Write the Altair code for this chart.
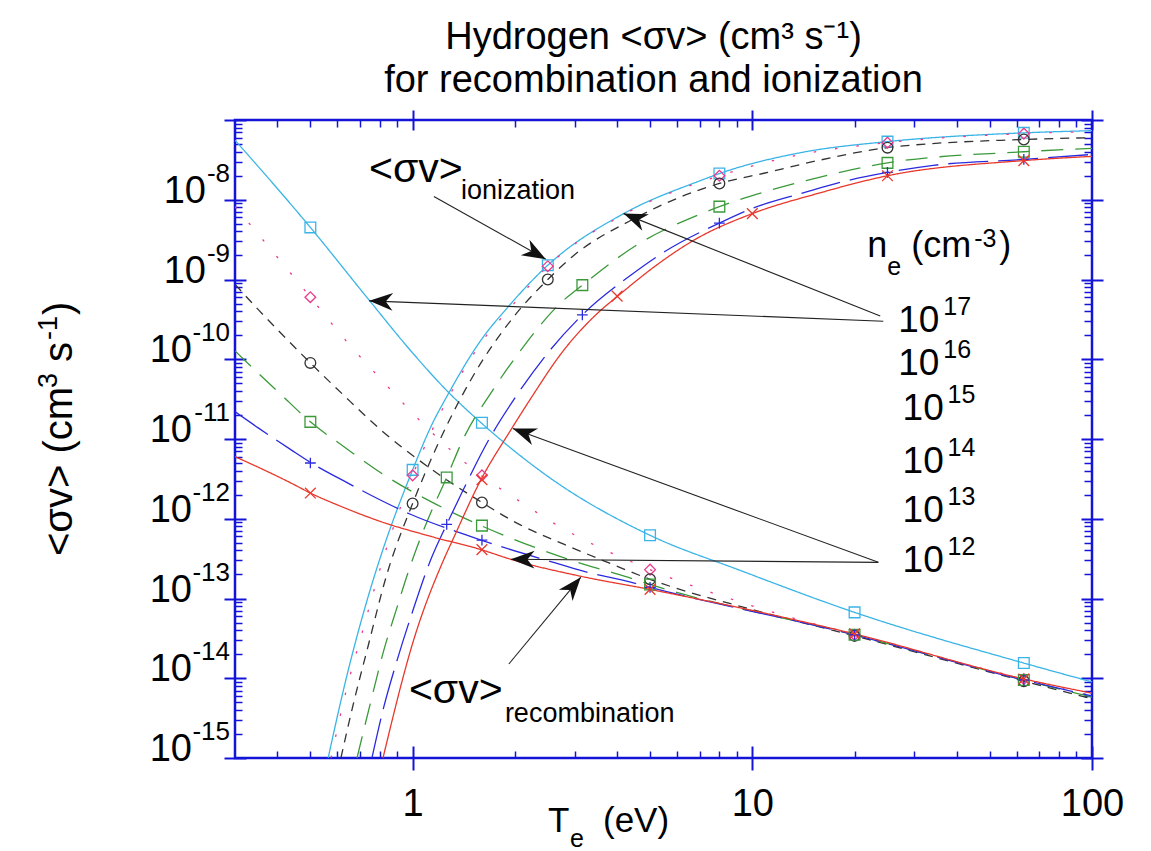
import math
import altair as alt
import pandas as pd

FONT = "Liberation Sans"
AXC = "#1414d8"

# ---------------- data ----------------
DENS = ["1e17", "1e16", "1e15", "1e14", "1e13", "1e12"]
COLORS = ["#3ab4e6", "#ec3a8c", "#333333", "#3a9a3a", "#2a2ae0", "#e8382c"]

# ionization <sigma v> curves: T_e (eV) -> cm^3 s^-1
ION_T = {
    "1e17": [0.564, 0.637, 0.739, 0.796, 1.0, 1.132, 1.279, 1.59, 1.907, 2.5, 4.18, 7.04, 8.0, 13.9, 25.0, 63.0, 100.0],
    "1e16": [0.575, 0.637, 0.719, 0.818, 1.0, 1.279, 1.59, 1.946, 2.5, 4.18, 8.0, 13.9, 25.0, 63.0, 100.0],
    "1e15": [0.615, 0.667, 0.739, 0.835, 1.0, 1.109, 1.483, 1.972, 2.5, 2.98, 4.385, 8.0, 11.1, 15.6, 25.0, 63.0, 100.0],
    "1e14": [0.686, 0.753, 0.824, 0.892, 0.969, 1.109, 1.26, 1.406, 1.722, 2.054, 2.73, 3.16, 4.69, 6.9, 8.0, 10.7, 14.4, 25.0, 63.0, 100.0],
    "1e13": [0.759, 0.824, 0.892, 1.0, 1.132, 1.26, 1.387, 1.676, 2.013, 2.5, 3.16, 4.385, 5.49, 8.0, 10.0, 14.2, 18.2, 25.0, 34.1, 63.0, 100.0],
    "1e12": [0.818, 1.009, 1.236, 1.314, 1.59, 1.946, 2.198, 2.786, 3.508, 4.018, 5.13, 6.72, 10.0, 15.6, 25.0, 63.0, 100.0],
}
ION_V = {
    "1e17": [1.0e-15, 9.8e-15, 1.04e-13, 2.9e-13, 4.1e-12, 1.43e-11, 3.8e-11, 1.74e-10, 4.5e-10, 1.51e-9, 6.7e-9, 1.74e-8, 2.13e-8, 3.9e-8, 5.36e-8, 6.9e-8, 7.35e-8],
    "1e16": [1.0e-15, 6.9e-15, 4.5e-14, 3.1e-13, 3.5e-12, 3.4e-11, 1.6e-10, 4.5e-10, 1.47e-9, 6.5e-9, 2.0e-8, 3.7e-8, 5.2e-8, 6.75e-8, 7.15e-8],
    "1e15": [1.0e-15, 4.5e-15, 2.5e-14, 1.85e-13, 1.55e-12, 4.5e-12, 5.5e-11, 3.3e-10, 1.0e-9, 2.0e-9, 5.5e-9, 1.6e-8, 2.2e-8, 3.1e-8, 4.5e-8, 5.7e-8, 6.0e-8],
    "1e14": [1.0e-15, 5.1e-15, 2.3e-14, 6.9e-14, 2.1e-13, 9.8e-13, 3.3e-12, 9.8e-12, 4.1e-11, 1.2e-10, 5.1e-10, 8.5e-10, 2.9e-9, 6.4e-9, 8.2e-9, 1.23e-8, 1.74e-8, 2.9e-8, 4.0e-8, 4.4e-8],
    "1e13": [1.0e-15, 4.5e-15, 1.48e-14, 6.9e-14, 3.1e-13, 8.5e-13, 2.0e-12, 9.8e-12, 3.4e-11, 1.2e-10, 3.6e-10, 1.13e-9, 2.2e-9, 5.1e-9, 7.8e-9, 1.23e-8, 1.66e-8, 2.2e-8, 2.7e-8, 3.2e-8, 3.7e-8],
    "1e12": [1.0e-15, 3.1e-14, 3.1e-13, 5.5e-13, 3.1e-12, 1.3e-11, 2.95e-11, 1.3e-10, 3.8e-10, 6.2e-10, 1.43e-9, 3.1e-9, 6.7e-9, 1.2e-8, 2.0e-8, 3.1e-8, 3.5e-8],
}

# recombination <sigma v> curves
REC_T = {
    "1e17": [0.3, 0.5, 0.745, 1.0, 1.279, 1.59, 2.5, 5.0, 9.24, 20.0, 63.0, 100.0],
    "1e16": [0.3, 0.396, 0.5, 0.645, 0.824, 1.094, 1.59, 1.986, 2.64, 5.0, 9.89, 20.0, 63.0, 100.0],
    "1e15": [0.3, 0.353, 0.402, 0.5, 0.624, 0.824, 1.109, 1.6, 2.04, 2.786, 3.704, 5.0, 10.2, 20.0, 63.0, 100.0],
    "1e14": [0.3, 0.351, 0.41, 0.5, 0.628, 0.846, 1.132, 1.59, 2.385, 3.18, 4.3, 5.0, 20.0, 63.0, 100.0],
    "1e13": [0.3, 0.351, 0.439, 0.5, 0.645, 0.79, 0.989, 1.416, 1.59, 2.552, 3.18, 4.385, 5.0, 20.0, 63.0, 100.0],
    "1e12": [0.3, 0.365, 0.439, 0.5, 0.615, 0.807, 1.132, 1.59, 1.946, 3.127, 5.0, 20.0, 63.0, 100.0],
}
REC_V = {
    "1e17": [5.6e-8, 4.5e-9, 5.5e-10, 1.2e-10, 3.8e-11, 1.6e-11, 3.4e-12, 6.2e-13, 2.24e-13, 6.7e-14, 1.55e-14, 9.0e-15],
    "1e16": [8.2e-9, 2.0e-9, 6.0e-10, 1.6e-10, 5.1e-11, 1.43e-11, 3.5e-12, 1.85e-12, 8.5e-13, 2.3e-13, 8.2e-14, 3.5e-14, 9.8e-15, 6.0e-15],
    "1e15": [8.7e-10, 4.1e-10, 2.3e-10, 9.0e-11, 3.6e-11, 1.2e-11, 4.5e-12, 1.6e-12, 8.7e-13, 4.8e-13, 2.9e-13, 1.74e-13, 7.1e-14, 3.4e-14, 9.2e-15, 5.5e-15],
    "1e14": [1.27e-10, 6.7e-11, 3.6e-11, 1.64e-11, 8.0e-12, 3.3e-12, 1.64e-12, 8.2e-13, 4.1e-13, 2.7e-13, 1.85e-13, 1.5e-13, 3.5e-14, 9.5e-15, 5.8e-15],
    "1e13": [2.2e-11, 1.38e-11, 7.3e-12, 5.1e-12, 2.8e-12, 1.78e-12, 1.13e-12, 6.4e-13, 5.4e-13, 2.9e-13, 2.2e-13, 1.6e-13, 1.38e-13, 3.5e-14, 9.5e-15, 6.0e-15],
    "1e12": [6.0e-12, 4.1e-12, 2.8e-12, 2.1e-12, 1.43e-12, 9.2e-13, 6.0e-13, 4.1e-13, 3.1e-13, 1.9e-13, 1.3e-13, 3.6e-14, 9.8e-15, 6.5e-15],
}

# symbols drawn on the curves
MK_ION_T = {
    "1e17": [1.0, 2.5, 8.0, 25.0, 63.0],
    "1e16": [1.0, 2.5, 8.0, 25.0, 63.0],
    "1e15": [1.0, 2.5, 8.0, 25.0, 63.0],
    "1e14": [1.26, 3.16, 8.0, 25.0, 63.0],
    "1e13": [1.26, 3.16, 8.0, 25.0, 63.0],
    "1e12": [1.6, 4.0, 10.0, 25.0, 63.0],
}
MK_ION_V = {
    "1e17": [4.1e-12, 1.51e-9, 2.13e-8, 5.36e-8, 6.9e-8],
    "1e16": [3.5e-12, 1.47e-9, 2.0e-8, 5.2e-8, 6.75e-8],
    "1e15": [1.55e-12, 1.0e-9, 1.6e-8, 4.5e-8, 5.7e-8],
    "1e14": [3.3e-12, 8.5e-10, 8.2e-9, 2.9e-8, 4.0e-8],
    "1e13": [8.5e-13, 3.6e-10, 5.1e-9, 2.2e-8, 3.2e-8],
    "1e12": [3.1e-12, 6.2e-10, 6.7e-9, 2.0e-8, 3.1e-8],
}
MK_REC_T = [0.5, 1.6, 5.0, 20.0, 63.0]
MK_REC_V = {
    "1e17": [4.5e-9, 1.6e-11, 6.2e-13, 6.7e-14, 1.55e-14],
    "1e16": [6.0e-10, 3.5e-12, 2.3e-13, 3.5e-14, 9.8e-15],
    "1e15": [9.0e-11, 1.6e-12, 1.74e-13, 3.4e-14, 9.2e-15],
    "1e14": [1.64e-11, 8.2e-13, 1.5e-13, 3.5e-14, 9.5e-15],
    "1e13": [5.0e-12, 5.4e-13, 1.38e-13, 3.5e-14, 9.5e-15],
    "1e12": [2.1e-12, 4.1e-13, 1.3e-13, 3.6e-14, 9.8e-15],
}

# tick labels
X_MAJOR = [1, 10, 100]
X_MINOR = [0.4, 0.5, 0.6, 0.7, 0.8, 0.9, 2, 3, 4, 5, 6, 7, 8, 9,
           20, 30, 40, 50, 60, 70, 80, 90]
Y_MAJOR = [1e-15, 1e-14, 1e-13, 1e-12, 1e-11, 1e-10, 1e-9, 1e-8, 1e-7]
Y_LABEL_VAL = [1e-15, 1e-14, 1e-13, 1e-12, 1e-11, 1e-10, 1e-9, 1e-8]
Y_LABEL_EXP = ["-15", "-14", "-13", "-12", "-11", "-10", "-9", "-8"]
Y_MINOR = [float(f"{k}e{e}") for e in range(-15, -7) for k in range(2, 10)]

# density labels (n_e) placed in data coordinates
NE_EXP = ["17", "16", "15", "14", "13", "12"]
NE_T = [26.9, 26.9, 27.7, 27.7, 27.7, 27.7]
NE_V = [2.19e-10, 6.37e-11, 1.74e-11, 3.8e-12, 9.0e-13, 2.13e-13]

# annotation arrows: from (T1, v1) to the tip (T2, v2)
ARR_T1 = [1.155, 1.92, 23.8, 24.3, 23.5, 23.5]
ARR_V1 = [1.1e-8, 1.51e-14, 3.48e-10, 3.0e-10, 2.84e-13, 2.84e-13]
ARR_T2 = [2.466, 3.127, 4.18, 0.745, 1.972, 1.946]
ARR_V2 = [1.8e-9, 1.85e-13, 6.7e-9, 5.4e-10, 1.35e-11, 3.1e-13]

# ---------------- geometry ----------------
W, H = 857, 638
XDOM = [0.3, 100]
YDOM = [1e-15, 1e-7]
XS = alt.Scale(type="log", domain=XDOM, nice=False)
YS = alt.Scale(type="log", domain=YDOM, nice=False)


def px(t):
    return W * (math.log10(t) - math.log10(XDOM[0])) / (math.log10(XDOM[1]) - math.log10(XDOM[0]))


def py(v):
    return H * (math.log10(YDOM[1]) - math.log10(v)) / (math.log10(YDOM[1]) - math.log10(YDOM[0]))


# ---------------- tables ----------------
line_rows, mk_rows = [], []
for d in DENS:
    for t, v in zip(ION_T[d], ION_V[d]):
        line_rows.append({"T": t, "v": v, "ne": d, "series": "ion" + d})
    for t, v in zip(REC_T[d], REC_V[d]):
        line_rows.append({"T": t, "v": v, "ne": d, "series": "rec" + d})
    for t, v in zip(MK_ION_T[d], MK_ION_V[d]):
        mk_rows.append({"T": t, "v": v, "ne": d})
    for t, v in zip(MK_REC_T, MK_REC_V[d]):
        mk_rows.append({"T": t, "v": v, "ne": d})
lines_df = pd.DataFrame(line_rows)
mk_df = pd.DataFrame(mk_rows)

arr_df = pd.DataFrame({"T1": ARR_T1, "v1": ARR_V1, "T2": ARR_T2, "v2": ARR_V2})
arr_df["ang"] = [
    math.degrees(math.atan2(py(b) - py(a), px(d) - px(c))) % 360
    for c, a, d, b in zip(ARR_T1, ARR_V1, ARR_T2, ARR_V2)
]
ne_df = pd.DataFrame({"T": NE_T, "v": NE_V, "exp": NE_EXP})
yl_df = pd.DataFrame({"v": Y_LABEL_VAL, "exp": Y_LABEL_EXP})
one = pd.DataFrame({"T": [1.0], "v": [1e-10]})

# ---------------- encodings ----------------
cscale = alt.Scale(domain=DENS, range=COLORS)
dscale = alt.Scale(domain=DENS, range=[[1, 0], [2.5, 19], [9, 7], [22, 12], [40, 10], [1, 0]])
PLUS = "M-1,0L1,0M0,-1L0,1"
XMARK = "M-1,-1L1,1M-1,1L1,-1"
sscale = alt.Scale(domain=DENS, range=["square", "diamond", "circle", "square", PLUS, XMARK])
zscale = alt.Scale(domain=DENS, range=[115, 115, 85, 115, 150, 110])
ARROW = "M0,0L-2,-0.75L-1.4,0L-2,0.75Z"

X = lambda f: alt.X(f, scale=XS, axis=None)
Y = lambda f: alt.Y(f, scale=YS, axis=None)


def axis_layer(xaxis=None, yaxis=None):
    return alt.Chart(one).mark_point(opacity=0).encode(
        x=alt.X("T:Q", scale=XS, axis=xaxis),
        y=alt.Y("v:Q", scale=YS, axis=yaxis),
    )


def ticks(orient, values, size, width):
    return alt.Axis(orient=orient, values=values, tickSize=size, offset=-size / 2 if size > 10 else -size,
                    tickWidth=width, tickColor=AXC, domain=False, grid=False, labels=False, title=None)


axes = [
    axis_layer(xaxis=ticks("bottom", X_MINOR, 7, 1.5)),
    axis_layer(xaxis=ticks("top", X_MINOR, 7, 1.5)),
    axis_layer(xaxis=ticks("top", X_MAJOR, 20, 2)),
    axis_layer(xaxis=alt.Axis(orient="bottom", values=X_MAJOR, tickSize=24, offset=-12, tickWidth=2,
                              tickColor=AXC, domain=False, grid=False, title=None, labels=True,
                              labelFontSize=38, labelFont=FONT, labelColor="black", labelPadding=15,
                              labelFlush=False, format="d")),
    axis_layer(yaxis=ticks("left", Y_MINOR, 7, 1.5)),
    axis_layer(yaxis=ticks("left", Y_MAJOR, 22, 2)),
    axis_layer(yaxis=ticks("right", Y_MINOR, 8, 1.5)),
    axis_layer(yaxis=ticks("right", Y_MAJOR, 22, 2)),
]

curves = alt.Chart(lines_df).mark_line(clip=True, strokeWidth=1.3, interpolate="monotone").encode(
    x=X("T:Q"), y=Y("v:Q"),
    color=alt.Color("ne:N", scale=cscale, legend=None),
    strokeDash=alt.StrokeDash("ne:N", scale=dscale, legend=None),
    detail="series:N",
)

markers = alt.Chart(mk_df).mark_point(filled=False, strokeWidth=1.3, opacity=1, clip=True).encode(
    x=X("T:Q"), y=Y("v:Q"),
    color=alt.Color("ne:N", scale=cscale, legend=None),
    shape=alt.Shape("ne:N", scale=sscale, legend=None),
    size=alt.Size("ne:N", scale=zscale, legend=None),
)

arrows = alt.Chart(arr_df).mark_rule(color="#222222", strokeWidth=1.1).encode(
    x=X("T1:Q"), y=Y("v1:Q"), x2="T2:Q", y2="v2:Q")
heads = alt.Chart(arr_df).mark_point(shape=ARROW, filled=True, color="#111111", opacity=1,
                                     size=560, strokeWidth=0).encode(
    x=X("T2:Q"), y=Y("v2:Q"), angle=alt.Angle("ang:Q", scale=None))

T_ = dict(font=FONT, color="black", baseline="alphabetic")

ne_base = alt.Chart(ne_df).mark_text(text="10", align="left", fontSize=37, **T_).encode(x=X("T:Q"), y=Y("v:Q"))
ne_sup = alt.Chart(ne_df).mark_text(align="left", fontSize=25, dx=45, dy=-17, **T_).encode(
    x=X("T:Q"), y=Y("v:Q"), text="exp:N")

ion_lbl = pd.DataFrame({"T": [0.744], "v": [1.69e-8]})
rec_lbl = pd.DataFrame({"T": [0.975], "v": [4.9e-15]})
ne_lbl = pd.DataFrame({"T": [21.8], "v": [1.9e-9]})


def piece(df, text, size, dx=0, dy=0):
    return alt.Chart(df).mark_text(text=text, align="left", fontSize=size, dx=dx, dy=dy, **T_).encode(
        x=X("T:Q"), y=Y("v:Q"))


labels = [
    piece(ion_lbl, "<σv>", 41), piece(ion_lbl, "ionization", 27, dx=92, dy=17),
    piece(rec_lbl, "<σv>", 41), piece(rec_lbl, "recombination", 27, dx=96, dy=19),
    piece(ne_lbl, "n", 36), piece(ne_lbl, "e", 25, dx=20, dy=18), piece(ne_lbl, "(cm", 36, dx=44),
    piece(ne_lbl, "-3", 25, dx=107, dy=-10), piece(ne_lbl, ")", 36, dx=132),
]

# y tick labels 10^n
yl_sup = alt.Chart(yl_df).mark_text(align="right", fontSize=26, dy=-18, **T_).encode(
    x=alt.value(-5), y=Y("v:Q"), text="exp:N")
yl_base1 = alt.Chart(yl_df).transform_filter("length(datum.exp) == 2").mark_text(
    text="10", align="right", fontSize=38, dy=3, **T_).encode(x=alt.value(-29), y=Y("v:Q"))
yl_base2 = alt.Chart(yl_df).transform_filter("length(datum.exp) == 3").mark_text(
    text="10", align="right", fontSize=38, dy=3, **T_).encode(x=alt.value(-43), y=Y("v:Q"))


# axis titles
def ptxt(text, x, y, size, dx=0, dy=0, angle=0):
    props = dict(text=text, align="left", fontSize=size, dx=dx, dy=dy, **T_)
    if angle:
        props["angle"] = angle
    return alt.Chart(one).mark_text(**props).encode(x=alt.value(x), y=alt.value(y))


xtitle = [ptxt("T", 313, 712, 35), ptxt("e", 335, 727, 25), ptxt("(eV)", 368, 712, 35)]
YT_X, YT_Y = -163, 436
ytitle = [
    ptxt("<σv> (cm", YT_X, YT_Y, 40, angle=270),
    ptxt("3", YT_X, YT_Y, 27, dx=168, dy=-15, angle=270),
    ptxt("s", YT_X, YT_Y, 40, dx=194, angle=270),
    ptxt("-1", YT_X, YT_Y, 27, dx=216, dy=-15, angle=270),
    ptxt(")", YT_X, YT_Y, 40, dx=241, angle=270),
]

chart = alt.layer(
    *axes, curves, markers, arrows, heads, ne_base, ne_sup, *labels,
    yl_sup, yl_base1, yl_base2, *xtitle, *ytitle,
).resolve_axis(x="independent", y="independent").properties(
    width=W, height=H,
    autosize=alt.AutoSizeParams(type="none"),
    padding={"left": 235, "top": 120, "right": 59, "bottom": 93},
    title=alt.TitleParams(
        text=["Hydrogen <σv> (cm³ s⁻¹)", "for recombination and ionization"],
        fontSize=38, font=FONT, fontWeight="normal", color="black",
        anchor="middle", frame="group", offset=9, dx=-10, lineHeight=43,
    ),
).configure(font=FONT).configure_view(stroke=AXC, strokeWidth=2.5)

chart.save("out.html", embed_options={"renderer": "svg", "actions": False})
